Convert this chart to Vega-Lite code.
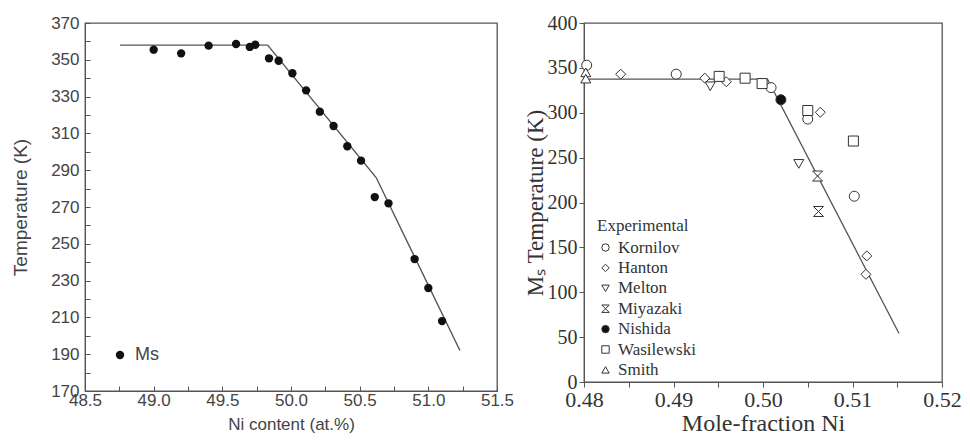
{
  "$schema": "https://vega.github.io/schema/vega-lite/v6.json",
  "background": "white",
  "padding": {"left": 10, "top": 12, "right": 5, "bottom": 5},
  "spacing": 8,
  "config": {"view": {"stroke": "#555", "strokeWidth": 1.3}},
  "resolve": {
    "scale": {"color": "independent", "shape": "independent"},
    "legend": {"color": "independent", "shape": "independent"}
  },
  "datasets": {
    "ms_points": [
      {"label": "Ms", "ni": 49.0, "t": 355.5},
      {"label": "Ms", "ni": 49.2, "t": 353.5},
      {"label": "Ms", "ni": 49.4, "t": 357.7},
      {"label": "Ms", "ni": 49.6, "t": 358.6},
      {"label": "Ms", "ni": 49.7, "t": 357.0},
      {"label": "Ms", "ni": 49.74, "t": 358.2},
      {"label": "Ms", "ni": 49.84, "t": 350.8},
      {"label": "Ms", "ni": 49.91, "t": 349.5},
      {"label": "Ms", "ni": 50.01, "t": 342.7},
      {"label": "Ms", "ni": 50.11, "t": 333.4},
      {"label": "Ms", "ni": 50.21, "t": 321.8},
      {"label": "Ms", "ni": 50.31, "t": 314.0},
      {"label": "Ms", "ni": 50.41, "t": 303.0},
      {"label": "Ms", "ni": 50.51, "t": 295.2},
      {"label": "Ms", "ni": 50.61, "t": 275.4},
      {"label": "Ms", "ni": 50.71, "t": 272.0},
      {"label": "Ms", "ni": 50.9, "t": 241.7},
      {"label": "Ms", "ni": 51.0, "t": 226.0},
      {"label": "Ms", "ni": 51.1, "t": 208.0}
    ],
    "ms_line": [
      {"i": 0, "ni": 48.755, "t": 358},
      {"i": 1, "ni": 49.83, "t": 358},
      {"i": 2, "ni": 50.62, "t": 286},
      {"i": 3, "ni": 51.23, "t": 192}
    ],
    "mf_line": [
      {"i": 0, "x": 0.48, "t": 337.5},
      {"i": 1, "x": 0.5005, "t": 337.5},
      {"i": 2, "x": 0.5152, "t": 54}
    ],
    "mf_points": [
      {"author": "Kornilov", "x": 0.4803, "t": 353},
      {"author": "Kornilov", "x": 0.4903, "t": 343},
      {"author": "Kornilov", "x": 0.5009, "t": 328},
      {"author": "Kornilov", "x": 0.505, "t": 293},
      {"author": "Kornilov", "x": 0.5102, "t": 207},
      {"author": "Hanton", "x": 0.4841, "t": 343},
      {"author": "Hanton", "x": 0.4935, "t": 338.5},
      {"author": "Hanton", "x": 0.4959, "t": 334.5},
      {"author": "Hanton", "x": 0.5064, "t": 300.5},
      {"author": "Hanton", "x": 0.5116, "t": 140.5},
      {"author": "Hanton", "x": 0.5115, "t": 120},
      {"author": "Melton", "x": 0.4941, "t": 329.5},
      {"author": "Melton", "x": 0.504, "t": 243},
      {"author": "Miyazaki", "x": 0.5061, "t": 229.5},
      {"author": "Miyazaki", "x": 0.5062, "t": 190},
      {"author": "Nishida", "x": 0.502, "t": 314.5},
      {"author": "Wasilewski", "x": 0.4951, "t": 340.5},
      {"author": "Wasilewski", "x": 0.498, "t": 338.5},
      {"author": "Wasilewski", "x": 0.4999, "t": 332.5},
      {"author": "Wasilewski", "x": 0.505, "t": 302.5},
      {"author": "Wasilewski", "x": 0.5101, "t": 268.5},
      {"author": "Smith", "x": 0.4802, "t": 345},
      {"author": "Smith", "x": 0.4802, "t": 338}
    ]
  },
  "hconcat": [
    {
      "width": 412,
      "height": 368,
      "layer": [
        {
          "data": {"name": "ms_line"},
          "mark": {"type": "line", "color": "#555", "strokeWidth": 1.4},
          "encoding": {
            "x": {"field": "ni", "type": "quantitative", "scale": {"domain": [48.5, 51.5], "nice": false, "zero": false},
              "axis": {"title": "Ni content (at.%)", "values": [48.5, 48.75, 49.0, 49.25, 49.5, 49.75, 50.0, 50.25, 50.5, 50.75, 51.0, 51.25, 51.5], "tickCount": 100,
                "labelExpr": "abs(datum.value*2 - round(datum.value*2)) < 0.01 ? format(datum.value, '.1f') : ''",
                "tickSize": -5, "tickColor": "#555", "domainColor": "#555", "grid": false,
                "labelFont": "Liberation Sans", "labelFontSize": 17, "labelColor": "#444", "labelPadding": 6, "labelFlush": false, "labelOverlap": false,
                "titleFont": "Liberation Sans", "titleFontSize": 17, "titleFontWeight": "normal", "titleColor": "#444", "titlePadding": 8}},
            "y": {"field": "t", "type": "quantitative", "scale": {"domain": [170, 370], "nice": false, "zero": false},
              "axis": {"title": "Temperature (K)", "values": [170, 180, 190, 200, 210, 220, 230, 240, 250, 260, 270, 280, 290, 300, 310, 320, 330, 340, 350, 360, 370], "tickCount": 100,
                "labelExpr": "datum.value % 20 == 10 ? datum.label : ''",
                "tickSize": -5, "tickColor": "#555", "domainColor": "#555", "grid": false,
                "labelFont": "Liberation Sans", "labelFontSize": 17, "labelColor": "#444", "labelPadding": 11, "labelFlush": false, "labelOverlap": false,
                "titleFont": "Liberation Sans", "titleFontSize": 19, "titleFontWeight": "normal", "titleColor": "#444", "titlePadding": 20}},
            "order": {"field": "i", "type": "quantitative"}
          }
        },
        {
          "data": {"name": "ms_points"},
          "mark": {"type": "point", "filled": true, "size": 70, "opacity": 1},
          "encoding": {
            "x": {"field": "ni", "type": "quantitative"},
            "y": {"field": "t", "type": "quantitative"},
            "color": {"field": "label", "type": "nominal", "scale": {"range": ["#111"]},
              "legend": {"title": null, "orient": "none", "legendX": 26, "legendY": 323, "labelFont": "Liberation Sans", "labelFontSize": 18, "labelColor": "#444", "symbolSize": 70, "symbolType": "circle", "labelOffset": 6}}
          }
        }
      ]
    },
    {
      "width": 358,
      "height": 359,
      "layer": [
        {
          "data": {"name": "mf_line"},
          "mark": {"type": "line", "color": "#555", "strokeWidth": 1.3},
          "encoding": {
            "x": {"field": "x", "type": "quantitative", "scale": {"domain": [0.48, 0.52], "nice": false, "zero": false},
              "axis": {"title": "Mole-fraction Ni", "values": [0.48, 0.485, 0.49, 0.495, 0.5, 0.505, 0.51, 0.515, 0.52], "tickCount": 100,
                "labelExpr": "abs(datum.value*100 - round(datum.value*100)) < 0.001 ? format(datum.value, '.2f') : ''",
                "tickSize": 5, "tickColor": "#555", "domainColor": "#555", "grid": false,
                "labelFont": "Liberation Serif", "labelFontSize": 22, "labelColor": "#333", "labelPadding": 2, "labelFlush": false, "labelOverlap": false,
                "titleFont": "Liberation Serif", "titleFontSize": 24, "titleFontWeight": "normal", "titleColor": "#333", "titlePadding": 1}},
            "y": {"field": "t", "type": "quantitative", "scale": {"domain": [0, 400], "nice": false, "zero": false},
              "axis": {"title": "Mₛ Temperature (K)", "values": [0, 50, 100, 150, 200, 250, 300, 350, 400], "tickCount": 100,
                "tickSize": 5, "tickColor": "#555", "domainColor": "#555", "grid": false,
                "labelFont": "Liberation Serif", "labelFontSize": 20, "labelColor": "#333", "labelPadding": 2, "labelFlush": false, "labelOverlap": false,
                "titleFont": "Liberation Serif", "titleFontSize": 23, "titleFontWeight": "normal", "titleColor": "#333", "titlePadding": 0}},
            "order": {"field": "i", "type": "quantitative"}
          }
        },
        {
          "data": {"name": "mf_points"},
          "mark": {"type": "point", "filled": true, "size": 100, "opacity": 1, "stroke": "#333", "strokeWidth": 1},
          "encoding": {
            "x": {"field": "x", "type": "quantitative"},
            "y": {"field": "t", "type": "quantitative"},
            "shape": {"field": "author", "type": "nominal", "title": "Experimental",
              "scale": {"domain": ["Kornilov", "Hanton", "Melton", "Miyazaki", "Nishida", "Wasilewski", "Smith"],
                "range": ["circle", "diamond", "triangle-down", "M-1,-1L1,-1L-1,1L1,1Z", "circle", "square", "triangle-up"]},
              "legend": {"title": "Experimental", "orient": "none", "legendX": 13, "legendY": 195,
                "titleFont": "Liberation Serif", "titleFontSize": 17, "titleFontWeight": "normal", "titleColor": "#333", "titlePadding": 4,
                "labelFont": "Liberation Serif", "labelFontSize": 17, "labelColor": "#333", "rowPadding": 2.4,
                "symbolSize": 55, "symbolStrokeColor": "#333", "symbolStrokeWidth": 1,
                "encode": {"symbols": {"update": {"stroke": {"value": "#333"}, "strokeWidth": {"value": 1}}}}}},
            "color": {"field": "author", "type": "nominal", "title": "Experimental",
              "scale": {"domain": ["Kornilov", "Hanton", "Melton", "Miyazaki", "Nishida", "Wasilewski", "Smith"],
                "range": ["white", "white", "white", "white", "#111", "white", "white"]},
              "legend": {"title": "Experimental", "orient": "none", "legendX": 13, "legendY": 195,
                "titleFont": "Liberation Serif", "titleFontSize": 17, "titleFontWeight": "normal", "titleColor": "#333", "titlePadding": 4,
                "labelFont": "Liberation Serif", "labelFontSize": 17, "labelColor": "#333", "rowPadding": 2.4,
                "symbolSize": 55, "symbolStrokeColor": "#333", "symbolStrokeWidth": 1,
                "encode": {"symbols": {"update": {"stroke": {"value": "#333"}, "strokeWidth": {"value": 1}}}}}}
          }
        }
      ]
    }
  ]
}
